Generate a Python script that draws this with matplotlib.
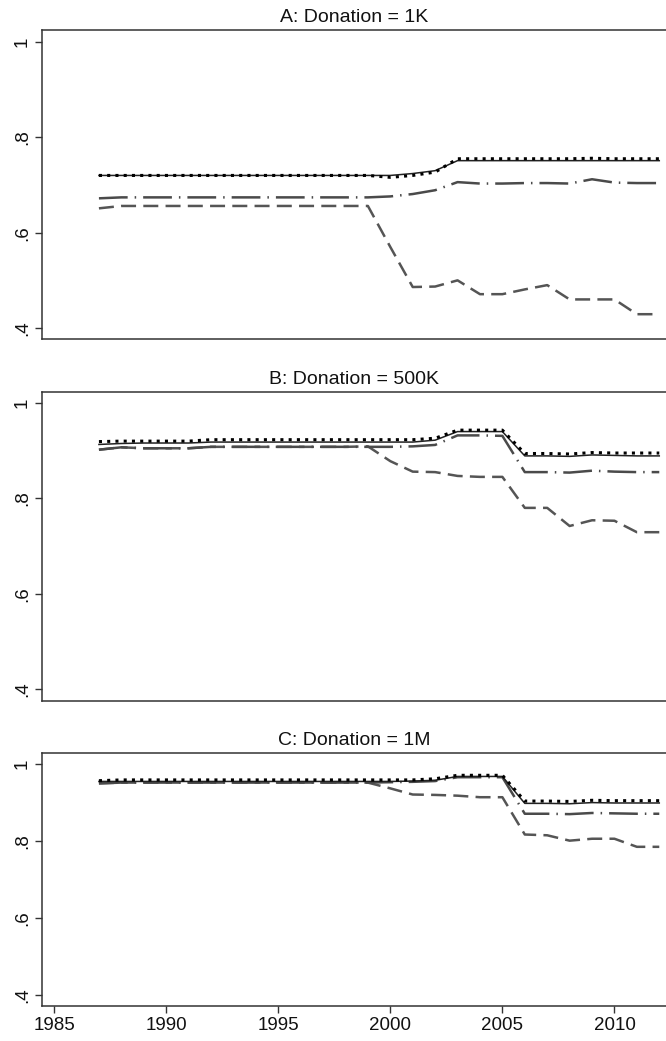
import numpy as np
import matplotlib
matplotlib.use('Agg')
from matplotlib import pyplot as plt

plt.rcParams['font.family'] = ['Liberation Sans', 'DejaVu Sans']

years = list(range(1987, 2013))

# panel A: donation = 1K
a_solid = [0.720, 0.720, 0.720, 0.720, 0.720, 0.720, 0.720, 0.720, 0.720, 0.720, 0.720, 0.720, 0.720,
           0.720, 0.724, 0.730, 0.751, 0.751, 0.751, 0.751, 0.751, 0.751, 0.751, 0.751, 0.751, 0.751]
a_dot = [0.720, 0.720, 0.720, 0.720, 0.720, 0.720, 0.720, 0.720, 0.720, 0.720, 0.720, 0.720, 0.720,
         0.716, 0.720, 0.727, 0.755, 0.755, 0.755, 0.755, 0.755, 0.755, 0.756, 0.755, 0.755, 0.755]
a_dashdot = [0.672, 0.674, 0.674, 0.674, 0.674, 0.674, 0.674, 0.674, 0.674, 0.674, 0.674, 0.674, 0.674,
             0.676, 0.681, 0.689, 0.706, 0.703, 0.703, 0.704, 0.704, 0.703, 0.712, 0.705, 0.704, 0.704]
a_dash = [0.651, 0.656, 0.656, 0.656, 0.656, 0.656, 0.656, 0.656, 0.656, 0.656, 0.656, 0.656, 0.656,
          0.570, 0.486, 0.487, 0.500, 0.471, 0.471, 0.481, 0.490, 0.460, 0.460, 0.460, 0.429, 0.429]

# panel B: donation = 500K
b_solid = [0.913, 0.915, 0.916, 0.916, 0.916, 0.918, 0.918, 0.918, 0.918, 0.918, 0.918, 0.918, 0.918,
           0.918, 0.918, 0.922, 0.940, 0.940, 0.940, 0.889, 0.889, 0.888, 0.891, 0.890, 0.889, 0.889]
b_dot = [0.919, 0.920, 0.920, 0.920, 0.920, 0.923, 0.923, 0.923, 0.923, 0.923, 0.923, 0.923, 0.923,
         0.923, 0.923, 0.926, 0.943, 0.943, 0.943, 0.894, 0.894, 0.893, 0.896, 0.895, 0.895, 0.895]
b_dashdot = [0.902, 0.907, 0.905, 0.905, 0.905, 0.908, 0.908, 0.908, 0.908, 0.908, 0.908, 0.908, 0.908,
             0.908, 0.909, 0.912, 0.932, 0.932, 0.931, 0.855, 0.855, 0.854, 0.858, 0.856, 0.855, 0.855]
b_dash = [0.902, 0.907, 0.905, 0.905, 0.905, 0.908, 0.908, 0.908, 0.908, 0.908, 0.908, 0.908, 0.909,
          0.878, 0.856, 0.855, 0.847, 0.845, 0.845, 0.780, 0.780, 0.742, 0.754, 0.753, 0.729, 0.729]

# panel C: donation = 1M
c_solid = [0.955, 0.955, 0.955, 0.955, 0.955, 0.955, 0.955, 0.955, 0.955, 0.955, 0.955, 0.955, 0.955,
           0.955, 0.956, 0.958, 0.968, 0.968, 0.968, 0.898, 0.898, 0.897, 0.900, 0.899, 0.899, 0.899]
c_dot = [0.957, 0.959, 0.959, 0.959, 0.959, 0.959, 0.959, 0.959, 0.959, 0.959, 0.959, 0.959, 0.959,
         0.959, 0.959, 0.962, 0.971, 0.971, 0.971, 0.904, 0.904, 0.903, 0.906, 0.905, 0.905, 0.905]
c_dashdot = [0.950, 0.952, 0.952, 0.952, 0.952, 0.952, 0.952, 0.952, 0.952, 0.952, 0.952, 0.952, 0.952,
             0.953, 0.954, 0.956, 0.966, 0.966, 0.966, 0.871, 0.871, 0.870, 0.873, 0.872, 0.871, 0.871]
c_dash = [0.950, 0.952, 0.952, 0.952, 0.952, 0.952, 0.952, 0.952, 0.952, 0.952, 0.952, 0.952, 0.952,
          0.937, 0.921, 0.920, 0.918, 0.914, 0.914, 0.817, 0.815, 0.801, 0.806, 0.806, 0.785, 0.785]

titles = ['A: Donation = 1K', 'B: Donation = 500K', 'C: Donation = 1M']
panels = [(a_solid, a_dot, a_dashdot, a_dash),
          (b_solid, b_dot, b_dashdot, b_dash),
          (c_solid, c_dot, c_dashdot, c_dash)]
yticks = [0.4, 0.6, 0.8, 1.0]
ytick_labels = ['.4', '.6', '.8', '1']
xticks = [1985, 1990, 1995, 2000, 2005, 2010]

W, H = 666, 1041
fig = plt.figure(figsize=(W / 100, H / 100), dpi=100)

# axes boxes in pixels: (top, bottom, ylim)
boxes = [(30, 339, (0.377, 1.025)),
         (392, 701, (0.375, 1.023)),
         (753, 1006, (0.371, 1.029))]
left_px = 42

for i, (top, bot, ylim) in enumerate(boxes):
    ax = fig.add_axes([left_px / W, 1 - bot / H, 1 - left_px / W, (bot - top) / H])
    solid, dot, dashdot, dash = panels[i]
    ax.plot(years, dash, color='#555555', lw=1.8, linestyle=(0, (6, 2.9)))
    ax.plot(years, dashdot, color='#4a4a4a', lw=1.8, linestyle=(0, (11.5, 2.8, 0.6, 2.8)))
    ax.plot(years, solid, color='#222222', lw=1.1)
    ax.plot(years, dot, color='black', lw=2.2, linestyle=(0, (1, 1.7)))

    ax.set_xlim(1984.46, 2012.3)
    ax.set_ylim(*ylim)
    ax.set_yticks(yticks)
    ax.set_yticklabels(ytick_labels, rotation=90, va='center')
    ax.set_xticks(xticks)
    if i < 2:
        ax.tick_params(axis='x', bottom=False, labelbottom=False)
    ax.tick_params(axis='both', direction='out', length=5, width=1.0,
                   color='#333333', labelsize=13.5, labelcolor='#111111')
    ax.tick_params(axis='y', pad=3)
    ax.tick_params(axis='x', pad=3)
    ax.spines['right'].set_visible(False)
    for s in ['left', 'top', 'bottom']:
        ax.spines[s].set_color('#333333')
        ax.spines[s].set_linewidth(1.1)
    ax.set_title(titles[i], fontsize=14, pad=6, color='#111111')

fig.savefig('out.png', dpi=100, facecolor='white')
